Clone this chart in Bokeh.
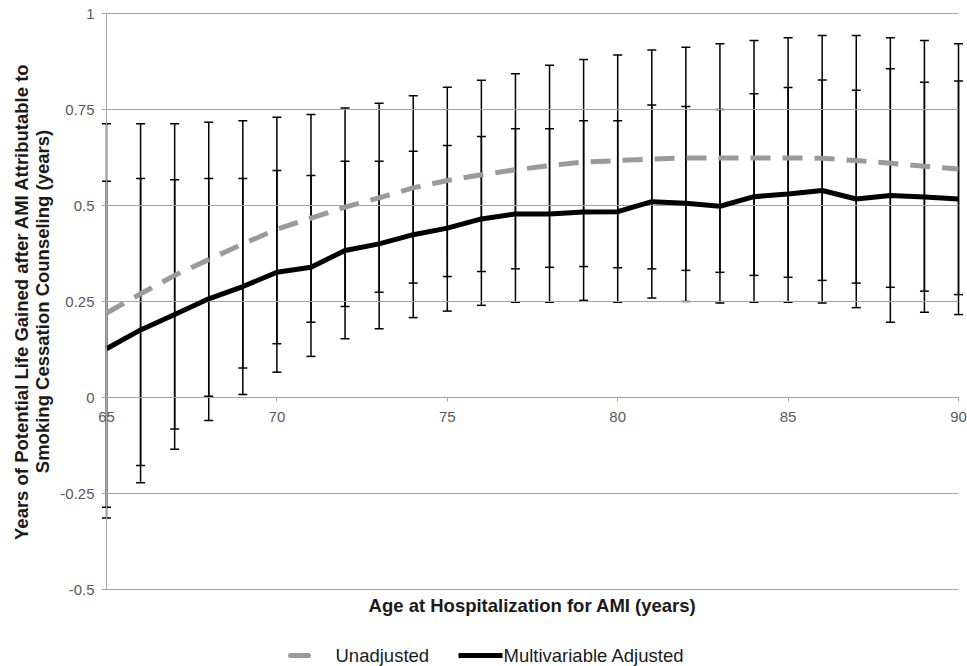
import math
from bokeh.plotting import figure
from bokeh.models import (ColumnDataSource, FixedTicker, Whisker, TeeHead,
                          Range1d, CustomJSTickFormatter)
from bokeh.core.properties import value
from bokeh.embed import file_html
from bokeh.resources import INLINE

# ---------------- data ----------------
ages = list(range(65, 91))

unadjusted = [0.220, 0.270, 0.318, 0.359, 0.400, 0.438, 0.467, 0.496, 0.520, 0.546,
              0.565, 0.580, 0.593, 0.604, 0.613, 0.617, 0.621, 0.624, 0.624, 0.624,
              0.624, 0.623, 0.617, 0.610, 0.602, 0.595]
unadjusted_lower = [-0.286, -0.177, -0.082, 0.003, 0.077, 0.140, 0.196, 0.237, 0.274, 0.298,
                    0.315, 0.328, 0.335, 0.339, 0.341, 0.338, 0.335, 0.331, 0.326, 0.318,
                    0.313, 0.305, 0.298, 0.287, 0.277, 0.268]
unadjusted_upper = [0.713, 0.713, 0.713, 0.717, 0.721, 0.730, 0.737, 0.754, 0.766, 0.786,
                    0.808, 0.826, 0.843, 0.865, 0.880, 0.892, 0.905, 0.912, 0.921, 0.930,
                    0.937, 0.943, 0.943, 0.937, 0.930, 0.921]

adjusted = [0.127, 0.176, 0.216, 0.257, 0.289, 0.326, 0.339, 0.383, 0.400, 0.424,
            0.441, 0.465, 0.478, 0.478, 0.483, 0.484, 0.510, 0.506, 0.498, 0.523,
            0.530, 0.539, 0.517, 0.526, 0.522, 0.517]
adjusted_lower = [-0.314, -0.222, -0.135, -0.060, 0.008, 0.066, 0.107, 0.153, 0.179, 0.208,
                  0.225, 0.240, 0.248, 0.248, 0.253, 0.248, 0.259, 0.250, 0.246, 0.248,
                  0.248, 0.246, 0.234, 0.196, 0.222, 0.216]
adjusted_upper = [0.563, 0.570, 0.567, 0.570, 0.570, 0.591, 0.578, 0.615, 0.615, 0.641,
                  0.656, 0.680, 0.700, 0.700, 0.721, 0.721, 0.762, 0.758, 0.750, 0.791,
                  0.807, 0.827, 0.800, 0.856, 0.821, 0.824]

x_ticks = [65, 70, 75, 80, 85, 90]
y_ticks = [-0.5, -0.25, 0, 0.25, 0.5, 0.75, 1]
y_tick_labels = ["-0.5", "-0.25", "0", "0.25", "0.5", "0.75", "1"]

y_title_lines = ["Years of Potential Life Gained after AMI Attributable to",
                 "Smoking Cessation Counseling (years)"]
x_title = "Age at Hospitalization for AMI (years)"
series_names = ["Unadjusted", "Multivariable Adjusted"]

# ---------------- layout ----------------
X0, X1 = 65, 90          # data extent
Y0, Y1 = -0.5, 1.0
W, H = 967, 666          # canvas
PL, PR, PT, PB = 106, 958, 13, 589   # where the data extent sits, canvas pixels

kx = (X1 - X0) / (PR - PL)
ky = (Y1 - Y0) / (PB - PT)

def sx(px):
    return X0 + (px - PL) * kx

def sy(py):
    return Y1 - (py - PT) * ky

GRID = "#a6a6a6"
TICK_TXT = "#595959"
TITLE_TXT = "#1a1a1a"
FONT = "Liberation Sans"

p = figure(width=W, height=H, x_range=Range1d(sx(0), sx(W)), y_range=Range1d(sy(H), sy(0)),
           output_backend="svg", toolbar_location=None, title=None,
           min_border_left=0, min_border_right=0, min_border_top=0, min_border_bottom=0)
p.outline_line_color = None
p.background_fill_color = "white"
p.border_fill_color = "white"
p.xgrid.visible = False
p.ygrid.visible = False

# horizontal gridlines across the data extent
p.segment(x0=[X0] * len(y_ticks), x1=[X1] * len(y_ticks), y0=y_ticks, y1=y_ticks,
          line_color=GRID, line_width=1)

yax = p.yaxis[0]
yax.fixed_location = X0
yax.bounds = (Y0, Y1)
yax.ticker = FixedTicker(ticks=y_ticks)
yax.formatter = CustomJSTickFormatter(args=dict(tvals=y_ticks, tlabels=y_tick_labels), code="""
const i = tvals.findIndex(t => Math.abs(t - tick) < 1e-9);
return i >= 0 ? tlabels[i] : String(tick);
""")
yax.axis_line_color = GRID
yax.major_tick_line_color = GRID
yax.major_tick_out = 5
yax.major_tick_in = 0
yax.minor_tick_line_color = None
yax.major_label_standoff = 7
yax.major_label_text_font = FONT
yax.major_label_text_font_size = "15px"
yax.major_label_text_color = TICK_TXT

xax = p.xaxis[0]
xax.fixed_location = 0
xax.bounds = (X0, X1)
xax.ticker = FixedTicker(ticks=x_ticks)
xax.axis_line_color = GRID
xax.major_tick_line_color = GRID
xax.major_tick_out = 4
xax.major_tick_in = 0
xax.minor_tick_line_color = None
xax.major_label_standoff = 10
xax.major_label_text_font = FONT
xax.major_label_text_font_size = "15px"
xax.major_label_text_color = TICK_TXT

src = ColumnDataSource(dict(age=ages, un=unadjusted, un_lo=unadjusted_lower, un_hi=unadjusted_upper,
                            adj=adjusted, adj_lo=adjusted_lower, adj_hi=adjusted_upper))

for lo, hi in (("adj_lo", "adj_hi"), ("un_lo", "un_hi")):
    w = Whisker(source=src, base="age", lower=lo, upper=hi, dimension="height",
                line_color="black", line_width=1.5, level="underlay",
                upper_head=TeeHead(size=9, line_color="black", line_width=1.5),
                lower_head=TeeHead(size=9, line_color="black", line_width=1.5))
    p.add_layout(w)

p.line("age", "un", source=src, line_color="#9a9a9a", line_width=5, line_dash="20 12")
p.line("age", "adj", source=src, line_color="black", line_width=5, line_join="round")

# axis titles
p.text(x=[sx(21), sx(41.5)], y=[(Y0 + Y1) / 2] * 2, text=y_title_lines, angle=math.pi / 2,
       text_align="center", text_baseline="middle", text_font=value(FONT),
       text_font_style="bold", text_font_size="18.5px", text_color=TITLE_TXT)
p.text(x=[sx(532)], y=[sy(605)], text=[x_title], text_align="center",
       text_baseline="middle", text_font=value(FONT), text_font_style="bold",
       text_font_size="18.5px", text_color=TITLE_TXT)

# legend
LY = sy(655)
p.line(x=[sx(290), sx(308)], y=[LY, LY], line_color="#9a9a9a", line_width=5, line_cap="round")
p.line(x=[sx(458), sx(502)], y=[LY, LY], line_color="black", line_width=5)
p.text(x=[sx(335), sx(503)], y=[LY, LY], text=series_names, text_align="left",
       text_baseline="middle", text_font=value(FONT), text_font_size="18.5px",
       text_color=TITLE_TXT)

open("out.html", "w").write(file_html(p, INLINE))
